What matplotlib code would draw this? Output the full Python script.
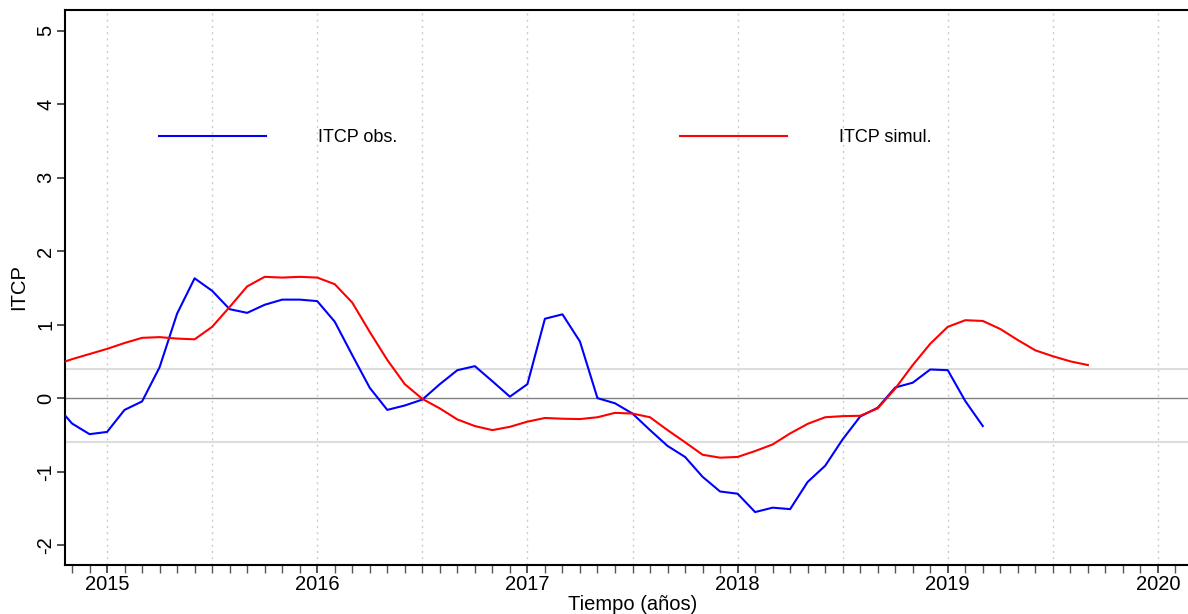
import numpy as np
import matplotlib.pyplot as plt
from matplotlib.ticker import MultipleLocator

plt.rcParams['font.family'] = ['Liberation Sans', 'DejaVu Sans']

# monthly series, first value = Oct 2014
start_year = 2014
start_month = 10

itcp_obs = [-0.07, -0.345, -0.49,
            -0.46, -0.16, -0.045, 0.42, 1.15, 1.63, 1.46, 1.21, 1.16, 1.27, 1.34, 1.34,
            1.32, 1.04, 0.585, 0.14, -0.16, -0.10, -0.02, 0.19, 0.38, 0.435, 0.23, 0.02,
            0.19, 1.08, 1.14, 0.77, 0.0, -0.07, -0.21, -0.435, -0.65, -0.80, -1.07, -1.27,
            -1.30, -1.55, -1.49, -1.51, -1.14, -0.92, -0.56, -0.25, -0.13, 0.145, 0.21, 0.39,
            0.38, -0.04, -0.38]

itcp_sim = [0.45, 0.53, 0.60,
            0.67, 0.75, 0.82, 0.83, 0.81, 0.80, 0.97, 1.24, 1.52, 1.65, 1.64, 1.65,
            1.64, 1.55, 1.30, 0.90, 0.52, 0.19, -0.01, -0.14, -0.29, -0.38, -0.435, -0.39,
            -0.32, -0.27, -0.28, -0.285, -0.26, -0.20, -0.21, -0.26, -0.435, -0.60, -0.77, -0.81,
            -0.80, -0.72, -0.63, -0.48, -0.35, -0.26, -0.245, -0.24, -0.14, 0.13, 0.45, 0.74,
            0.97, 1.06, 1.05, 0.94, 0.79, 0.65, 0.57, 0.50, 0.45]

year_ticks = [2015, 2016, 2017, 2018, 2019, 2020]
y_ticks = [-2, -1, 0, 1, 2, 3, 4, 5]
band_upper = 0.4
band_lower = -0.6

t0 = start_year + (start_month - 1) / 12
t_obs = t0 + np.arange(len(itcp_obs)) / 12
t_sim = t0 + np.arange(len(itcp_sim)) / 12

fig = plt.figure(figsize=(11.88, 6.14), dpi=100)
ax = fig.add_axes([65 / 1188, 1 - 565 / 614, 1135 / 1188, 555 / 614])

# reference lines
ax.axhline(0, color='#808080', lw=1.0, zorder=1)
ax.axhline(band_upper, color='#dcdcdc', lw=1.5, zorder=1)
ax.axhline(band_lower, color='#dcdcdc', lw=1.5, zorder=1)

ax.plot(t_obs, itcp_obs, color='#0000ff', lw=1.5, label='ITCP obs.', zorder=3)
ax.plot(t_sim, itcp_sim, color='#ff0000', lw=1.5, label='ITCP simul.', zorder=3)

ax.set_xlim(2014.8, 2020.2)
ax.set_ylim(-2.27, 5.28)

ax.set_xticks(year_ticks)
ax.set_xticklabels([str(y) for y in year_ticks])
ax.xaxis.set_minor_locator(MultipleLocator(1 / 12))
ax.set_yticks(y_ticks)
ax.set_yticklabels([str(v) for v in y_ticks], rotation=90, va='center')

# dotted vertical grid every half year
for gx in np.arange(2015, 2020.01, 0.5):
    ax.axvline(gx, color='#cccccc', lw=1.0, ls=(0, (1.5, 3)), zorder=0)

ax.tick_params(axis='both', which='major', direction='out', length=6, width=1.2,
               labelsize=14.5, color='#333333')
ax.tick_params(axis='x', which='minor', direction='out', length=6, width=1.0, color='#555555')
ax.tick_params(axis='x', which='major', pad=1)
ax.tick_params(axis='y', which='major', pad=1)

for side in ['left', 'top', 'bottom']:
    ax.spines[side].set_linewidth(1.5)
ax.spines['right'].set_visible(False)

ax.set_xlabel('Tiempo (años)', fontsize=14.5, labelpad=1)
ax.set_ylabel('ITCP', fontsize=14.5, labelpad=6)

fs_px = 13 * 100 / 72
ax.legend(loc='center left', bbox_to_anchor=(159 / 1188, 1 - 138 / 614),
          bbox_transform=fig.transFigure, ncol=2, frameon=False, fontsize=13,
          handlelength=107 / fs_px, handletextpad=52 / fs_px, columnspacing=283 / fs_px,
          borderpad=0, borderaxespad=0)

fig.savefig('out.png', dpi=100)
